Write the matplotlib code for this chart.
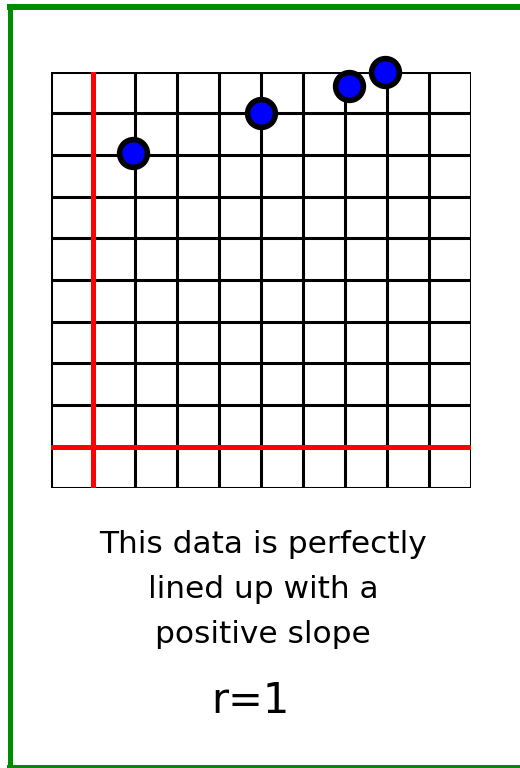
import matplotlib
matplotlib.use("Agg")
import matplotlib.pyplot as plt
from matplotlib.lines import Line2D

# scatter points (grid units, origin at the red axes)
xs = [0.95, 4, 6.1, 6.95]
ys = [7.05, 8, 8.65, 9]

grid_lo, grid_hi = -1, 9
caption = ["This data is perfectly", "lined up with a", "positive slope"]
r_label = "r=1"

W, H = 520, 768
fig = plt.figure(figsize=(W / 100, H / 100), dpi=100)
fig.patch.set_facecolor("white")

def fx(px):
    return px / W

def fy(py):
    return 1 - py / H

# grid area in pixels
left, right, top, bottom = 50.7, 470.7, 71.7, 488.3
ax = fig.add_axes([fx(left), fy(bottom), (right - left) / W, (bottom - top) / H])
ax.set_xlim(grid_lo, grid_hi)
ax.set_ylim(grid_lo, grid_hi)
ax.axis("off")

for v in range(grid_lo, grid_hi + 1):
    ax.axvline(v, color="black", lw=2.2, zorder=1, solid_capstyle="projecting")
    ax.axhline(v, color="black", lw=2.2, zorder=1, solid_capstyle="projecting")

ax.axvline(0, color="#ff0000", lw=3.6, zorder=2)
ax.axhline(0, color="#ff0000", lw=3.6, zorder=2)

ax.plot(xs, ys, linestyle="none", marker="o", ms=20, mew=4.0,
        mfc="#0000ff", mec="black", zorder=5, clip_on=False)

# caption
baselines = [552.7, 598, 643]
for line, b in zip(caption, baselines):
    fig.text(fx(263), fy(b), line, ha="center", va="baseline",
             fontsize=22.5, family="DejaVu Sans", color="black")
fig.text(fx(250), fy(713), r_label, ha="center", va="baseline",
         fontsize=30, family="DejaVu Sans", color="black")

# green frame: left, top and bottom edges
green = "#008c00"
fig.add_artist(Line2D([fx(9.5), fx(9.5)], [fy(4), fy(768)], color=green,
                      lw=3.6, transform=fig.transFigure, solid_capstyle="butt"))
fig.add_artist(Line2D([fx(7), fx(520)], [fy(7), fy(7)], color=green,
                      lw=4.3, transform=fig.transFigure, solid_capstyle="butt"))
fig.add_artist(Line2D([fx(7), fx(520)], [fy(767), fy(767)], color=green,
                      lw=2.9, transform=fig.transFigure, solid_capstyle="butt"))

fig.savefig("out.png", dpi=100, facecolor="white")
